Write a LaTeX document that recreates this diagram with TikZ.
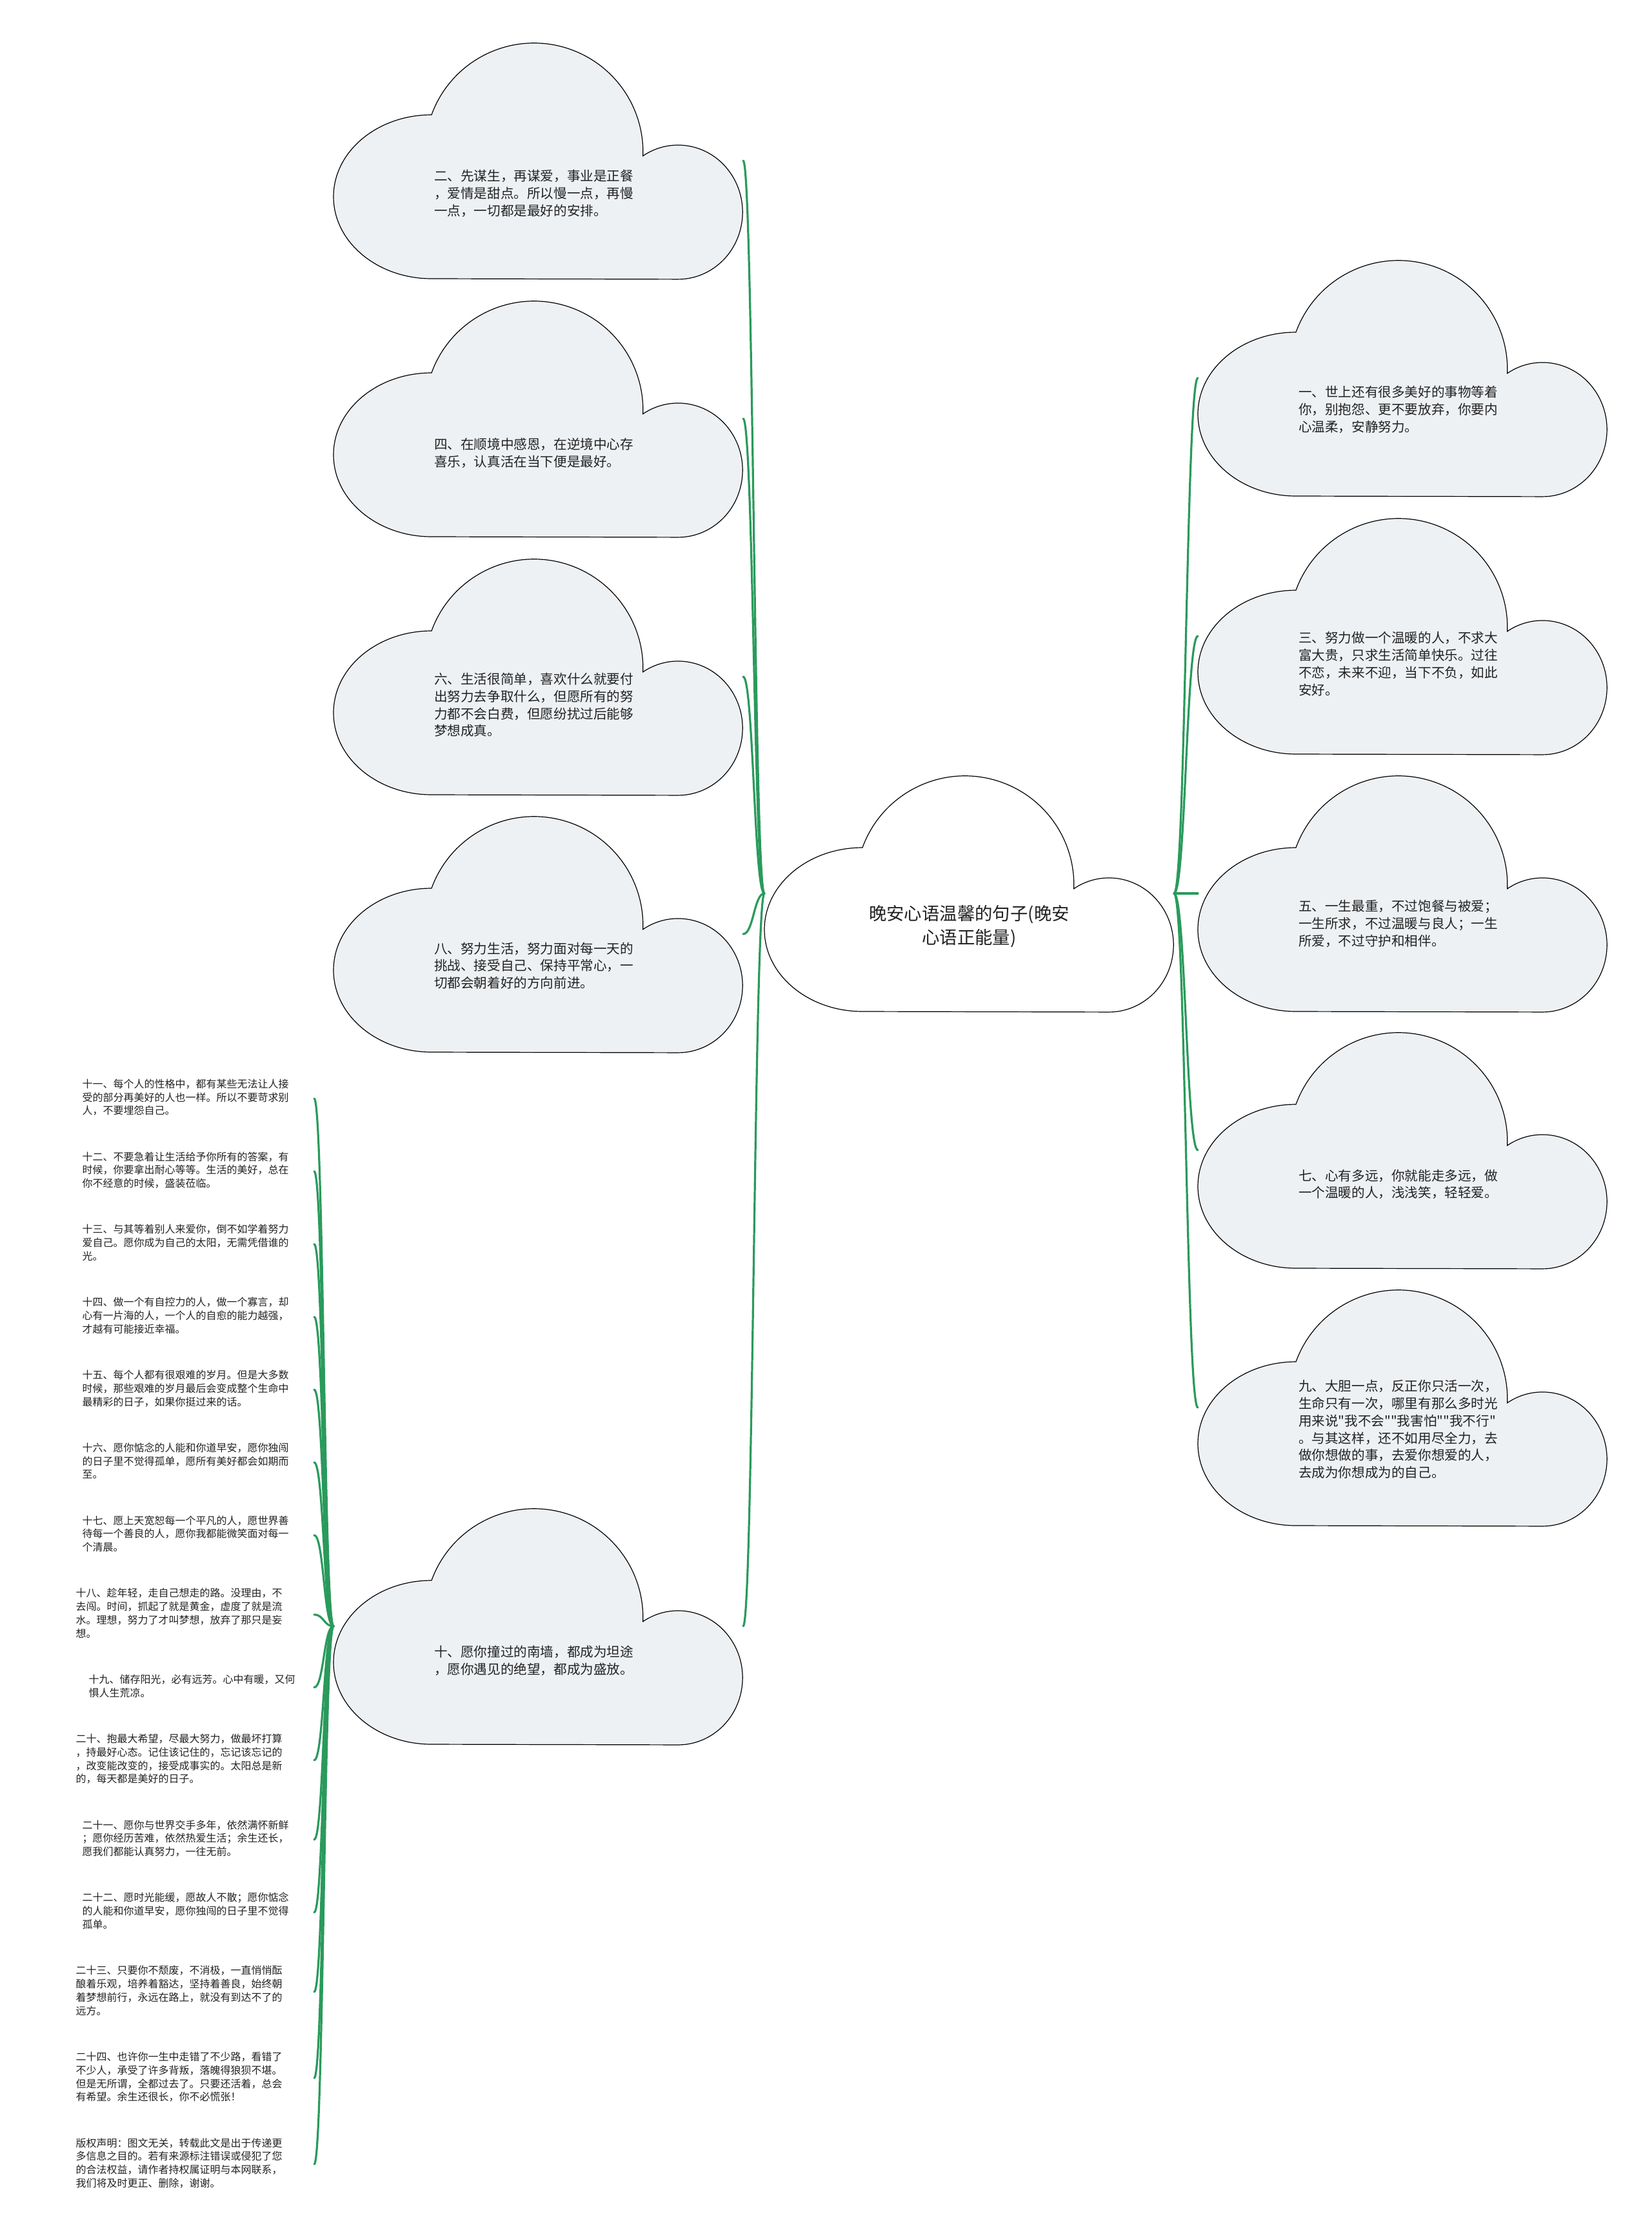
\documentclass[tikz,border=0pt]{standalone}
\usepackage{fontspec}
\newfontfamily\cjkfont{Noto Sans CJK SC}
\usetikzlibrary{positioning}
\definecolor{Mist}{HTML}{EEF1F4}
\definecolor{Stem}{HTML}{2A9A5C}
\definecolor{Ink}{HTML}{222222}

\tikzset{
  pics/cloudshape/.style={code={
    \draw[draw=black,line width=0.6pt,fill=#1] (76,-183)
      arc[start angle=270,end angle=90,x radius=76,y radius=63.5]
      arc[start angle=160,end angle=-2,radius=84.5]
      arc[start angle=123,end angle=-90,x radius=50,y radius=52] -- cycle;
  }}
}

\begin{document}
\begin{tikzpicture}[x=1pt,y=1pt,
    cloudbox/.style={minimum width=317.5pt,minimum height=183pt,inner sep=0pt,outer sep=0pt},
    cloudtext/.style={text width=155pt,align=left,inner sep=0pt,text=Ink,
      font=\cjkfont\fontsize{10.3}{13.4}\selectfont},
    rootlabel/.style={align=center,inner sep=0pt,text=Ink,
      font=\cjkfont\fontsize{13.7}{18.5}\selectfont},
    leaf/.style={text width=160pt,align=left,inner xsep=19.5pt,inner ysep=0pt,anchor=east,
      text=Ink,font=\cjkfont\fontsize{8}{10.4}\selectfont,
      execute at begin node=\strut,execute at end node=\strut},
    widetext/.style={text width=165pt},
    narrowtext/.style={text width=155pt},
    under/.style={below=24.8pt of #1.south east,anchor=north east},
    branch/.style={draw=Stem,line width=1.6pt,line cap=round}
  ]
  \useasboundingbox (0,0) rectangle (1280,-1728.5);
  \fill[white] (0,0) rectangle (1280,-1728.5);

  % root
  \node[cloudbox] (c0) at (751.25,-692.5) {};
  \pic at (c0.north west) {cloudshape=white};
  \node[rootlabel] (t0) at ([yshift=-25.75pt]c0.center) {晚安心语温馨的句子(晚安\\心语正能量)};

  % left column of clouds
  \node[cloudbox] (c2) at (417.25,-124.5) {};
  \pic at (c2.north west) {cloudshape=Mist};
  \node[cloudtext] (t2) at ([xshift=-3.25pt,yshift=-25.5pt]c2.center) {二、先谋生，再谋爱，事业是正餐\\，爱情是甜点。所以慢一点，再慢\\一点，一切都是最好的安排。};

  \node[cloudbox] (c4) at (417.25,-324.5) {};
  \pic at (c4.north west) {cloudshape=Mist};
  \node[cloudtext] (t4) at ([xshift=-3.25pt,yshift=-26.5pt]c4.center) {四、在顺境中感恩，在逆境中心存\\喜乐，认真活在当下便是最好。};

  \node[cloudbox] (c6) at (417.25,-524.5) {};
  \pic at (c6.north west) {cloudshape=Mist};
  \node[cloudtext] (t6) at ([xshift=-3.25pt,yshift=-22pt]c6.center) {六、生活很简单，喜欢什么就要付\\出努力去争取什么，但愿所有的努\\力都不会白费，但愿纷扰过后能够\\梦想成真。};

  \node[cloudbox] (c8) at (417.25,-724) {};
  \pic at (c8.north west) {cloudshape=Mist};
  \node[cloudtext] (t8) at ([xshift=-3.25pt,yshift=-24.5pt]c8.center) {八、努力生活，努力面对每一天的\\挑战、接受自己、保持平常心，一\\切都会朝着好的方向前进。};

  \node[cloudbox] (c10) at (417.25,-1260.5) {};
  \pic at (c10.north west) {cloudshape=Mist};
  \node[cloudtext] (t10) at ([xshift=-3.25pt,yshift=-26.5pt]c10.center) {十、愿你撞过的南墙，都成为坦途\\，愿你遇见的绝望，都成为盛放。};

  % right column of clouds
  \node[cloudbox] (c1) at (1087.25,-293) {};
  \pic at (c1.north west) {cloudshape=Mist};
  \node[cloudtext] (t1) at ([xshift=-3.25pt,yshift=-24.5pt]c1.center) {一、世上还有很多美好的事物等着\\你，别抱怨、更不要放弃，你要内\\心温柔，安静努力。};

  \node[cloudbox] (c3) at (1087.25,-493) {};
  \pic at (c3.north west) {cloudshape=Mist};
  \node[cloudtext] (t3) at ([xshift=-3.25pt,yshift=-21.5pt]c3.center) {三、努力做一个温暖的人，不求大\\富大贵，只求生活简单快乐。过往\\不恋，未来不迎，当下不负，如此\\安好。};

  \node[cloudbox] (c5) at (1087.25,-692.5) {};
  \pic at (c5.north west) {cloudshape=Mist};
  \node[cloudtext] (t5) at ([xshift=-3.25pt,yshift=-23.5pt]c5.center) {五、一生最重，不过饱餐与被爱；\\一生所求，不过温暖与良人；一生\\所爱，不过守护和相伴。};

  \node[cloudbox] (c7) at (1087.25,-891.5) {};
  \pic at (c7.north west) {cloudshape=Mist};
  \node[cloudtext] (t7) at ([xshift=-3.25pt,yshift=-26.5pt]c7.center) {七、心有多远，你就能走多远，做\\一个温暖的人，浅浅笑，轻轻爱。};

  \node[cloudbox] (c9) at (1087.25,-1091) {};
  \pic at (c9.north west) {cloudshape=Mist};
  \node[cloudtext] (t9) at ([xshift=-3.25pt,yshift=-17pt]c9.center) {九、大胆一点，反正你只活一次，\\生命只有一次，哪里有那么多时光\\用来说"我不会""我害怕""我不行"\\。与其这样，还不如用尽全力，去\\做你想做的事，去爱你想爱的人，\\去成为你想成为的自己。};

  % leaves hanging off cloud ten
  \node[leaf] (n11) at (243.5,-851.5) {十一、每个人的性格中，都有某些无法让人接\\受的部分再美好的人也一样。所以不要苛求别\\人，不要埋怨自己。};
  \node[leaf,under=n11] (n12) {十二、不要急着让生活给予你所有的答案，有\\时候，你要拿出耐心等等。生活的美好，总在\\你不经意的时候，盛装莅临。};
  \node[leaf,under=n12] (n13) {十三、与其等着别人来爱你，倒不如学着努力\\爱自己。愿你成为自己的太阳，无需凭借谁的\\光。};
  \node[leaf,under=n13] (n14) {十四、做一个有自控力的人，做一个寡言，却\\心有一片海的人，一个人的自愈的能力越强，\\才越有可能接近幸福。};
  \node[leaf,under=n14] (n15) {十五、每个人都有很艰难的岁月。但是大多数\\时候，那些艰难的岁月最后会变成整个生命中\\最精彩的日子，如果你挺过来的话。};
  \node[leaf,under=n15] (n16) {十六、愿你惦念的人能和你道早安，愿你独闯\\的日子里不觉得孤单，愿所有美好都会如期而\\至。};
  \node[leaf,under=n16] (n17) {十七、愿上天宽恕每一个平凡的人，愿世界善\\待每一个善良的人，愿你我都能微笑面对每一\\个清晨。};
  \node[leaf,widetext,under=n17] (n18) {十八、趁年轻，走自己想走的路。没理由，不\\去闯。时间，抓起了就是黄金，虚度了就是流\\水。理想，努力了才叫梦想，放弃了那只是妄\\想。};
  \node[leaf,narrowtext,under=n18] (n19) {十九、储存阳光，必有远芳。心中有暖，又何\\惧人生荒凉。};
  \node[leaf,widetext,under=n19] (n20) {二十、抱最大希望，尽最大努力，做最坏打算\\，持最好心态。记住该记住的，忘记该忘记的\\，改变能改变的，接受成事实的。太阳总是新\\的，每天都是美好的日子。};
  \node[leaf,under=n20] (n21) {二十一、愿你与世界交手多年，依然满怀新鲜\\；愿你经历苦难，依然热爱生活；余生还长，\\愿我们都能认真努力，一往无前。};
  \node[leaf,under=n21] (n22) {二十二、愿时光能缓，愿故人不散；愿你惦念\\的人能和你道早安，愿你独闯的日子里不觉得\\孤单。};
  \node[leaf,widetext,under=n22] (n23) {二十三、只要你不颓废，不消极，一直悄悄酝\\酿着乐观，培养着豁达，坚持着善良，始终朝\\着梦想前行，永远在路上，就没有到达不了的\\远方。};
  \node[leaf,widetext,under=n23] (n24) {二十四、也许你一生中走错了不少路，看错了\\不少人，承受了许多背叛，落魄得狼狈不堪。\\但是无所谓，全都过去了。只要还活着，总会\\有希望。余生还很长，你不必慌张！};
  \node[leaf,widetext,under=n24] (n25) {版权声明：图文无关，转载此文是出于传递更\\多信息之目的。若有来源标注错误或侵犯了您\\的合法权益，请作者持权属证明与本网联系，\\我们将及时更正、删除，谢谢。};

  % branches
  \draw[branch] (c0.west) .. controls +(-8,0) and +(8,0) .. (c2.east);
  \draw[branch] (c0.west) .. controls +(-8,0) and +(8,0) .. (c4.east);
  \draw[branch] (c0.west) .. controls +(-8,0) and +(8,0) .. (c6.east);
  \draw[branch] (c0.west) .. controls +(-8,0) and +(8,0) .. (c8.east);
  \draw[branch] (c0.west) .. controls +(-8,0) and +(8,0) .. (c10.east);
  \draw[branch] (c0.east) .. controls +(9,0) and +(-9,0) .. (c1.west);
  \draw[branch] (c0.east) .. controls +(9,0) and +(-9,0) .. (c3.west);
  \draw[branch] (c0.east) .. controls +(9,0) and +(-9,0) .. (c5.west);
  \draw[branch] (c0.east) .. controls +(9,0) and +(-9,0) .. (c7.west);
  \draw[branch] (c0.east) .. controls +(9,0) and +(-9,0) .. (c9.west);
  \draw[branch] (c10.west) .. controls +(-7.5,0) and +(7.5,0) .. (n11.east);
  \draw[branch] (c10.west) .. controls +(-7.5,0) and +(7.5,0) .. (n12.east);
  \draw[branch] (c10.west) .. controls +(-7.5,0) and +(7.5,0) .. (n13.east);
  \draw[branch] (c10.west) .. controls +(-7.5,0) and +(7.5,0) .. (n14.east);
  \draw[branch] (c10.west) .. controls +(-7.5,0) and +(7.5,0) .. (n15.east);
  \draw[branch] (c10.west) .. controls +(-7.5,0) and +(7.5,0) .. (n16.east);
  \draw[branch] (c10.west) .. controls +(-7.5,0) and +(7.5,0) .. (n17.east);
  \draw[branch] (c10.west) .. controls +(-7.5,0) and +(7.5,0) .. (n18.east);
  \draw[branch] (c10.west) .. controls +(-7.5,0) and +(7.5,0) .. (n19.east);
  \draw[branch] (c10.west) .. controls +(-7.5,0) and +(7.5,0) .. (n20.east);
  \draw[branch] (c10.west) .. controls +(-7.5,0) and +(7.5,0) .. (n21.east);
  \draw[branch] (c10.west) .. controls +(-7.5,0) and +(7.5,0) .. (n22.east);
  \draw[branch] (c10.west) .. controls +(-7.5,0) and +(7.5,0) .. (n23.east);
  \draw[branch] (c10.west) .. controls +(-7.5,0) and +(7.5,0) .. (n24.east);
  \draw[branch] (c10.west) .. controls +(-7.5,0) and +(7.5,0) .. (n25.east);
\end{tikzpicture}
\end{document}
